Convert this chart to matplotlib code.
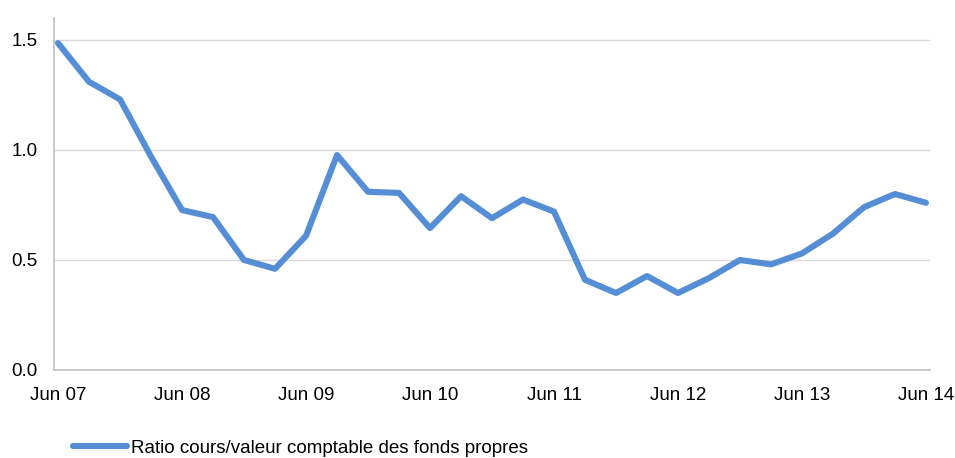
import matplotlib
matplotlib.use("Agg")
import matplotlib.pyplot as plt

plt.rcParams['font.family'] = ['Liberation Sans', 'DejaVu Sans']

tick_labels = ["Jun 07", "Jun 08", "Jun 09", "Jun 10", "Jun 11", "Jun 12", "Jun 13", "Jun 14"]
series_name = "Ratio cours/valeur comptable des fonds propres"
values = [1.486, 1.31, 1.23, 0.97, 0.727, 0.695, 0.50, 0.46, 0.61, 0.977,
          0.81, 0.805, 0.645, 0.79, 0.69, 0.775, 0.72, 0.41, 0.35, 0.427,
          0.35, 0.418, 0.50, 0.48, 0.53, 0.62, 0.74, 0.80, 0.76]
x = list(range(len(values)))

W, H = 955, 458
fig = plt.figure(figsize=(W/100, H/100), dpi=100)
ax = fig.add_axes([54/W, (H-370)/H, (930-54)/W, (370-18)/H])

ax.plot(x, values, color="#558ED5", lw=4.4, solid_joinstyle="round", solid_capstyle="round",
        label=series_name, zorder=3)

ax.set_xlim(-0.13, 28.13)
ax.set_ylim(0, 1.6)
ax.set_yticks([0, 0.5, 1.0, 1.5])
ax.set_yticklabels(["0.0", "0.5", "1.0", "1.5"])
ax.set_xticks(list(range(0, 29, 4)))
ax.set_xticklabels(tick_labels)
ax.yaxis.grid(True, color="#D9D9D9", lw=1)
ax.set_axisbelow(True)
for s in ["top", "right"]:
    ax.spines[s].set_visible(False)
ax.spines["left"].set_color("#BFBFBF")
ax.spines["bottom"].set_color("#BFBFBF")
ax.spines["left"].set_linewidth(1.2)
ax.spines["bottom"].set_linewidth(1.2)
ax.tick_params(axis="both", length=0, labelsize=13.5, colors="#000000")
ax.tick_params(axis="y", pad=12)
ax.tick_params(axis="x", pad=12)

leg = fig.legend(loc="center left", bbox_to_anchor=(73/W, (H-448)/H), frameon=False,
                 fontsize=13.5, handlelength=2.9, handletextpad=0.2, borderpad=0, borderaxespad=0)

fig.savefig("out.png", dpi=100)
